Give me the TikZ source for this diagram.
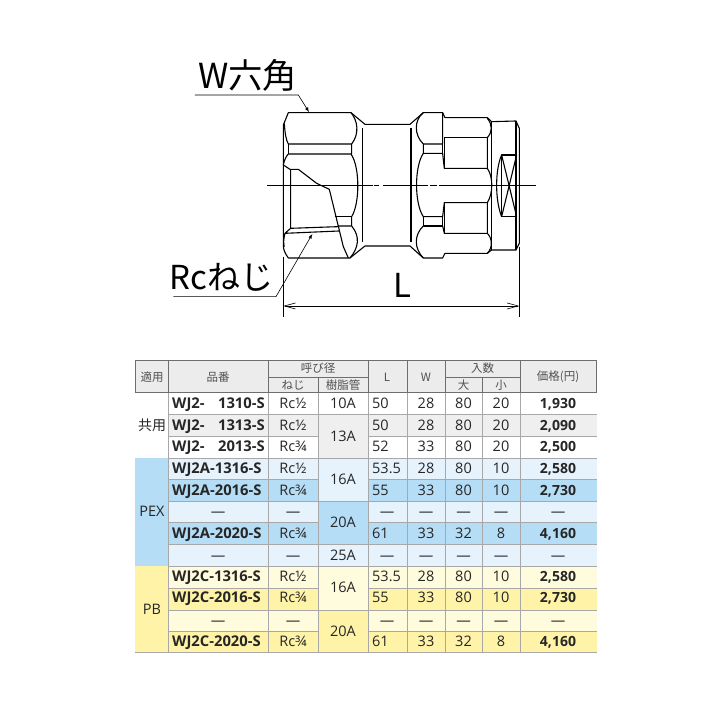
\documentclass[tikz,border=0pt]{standalone}
\usepackage{fontspec}
\setmainfont{Open Sans}
\newfontfamily\jp{Noto Sans CJK JP}
\usetikzlibrary{arrows,arrows.meta}
\definecolor{headbg}{HTML}{ECECEC}
\definecolor{headline}{HTML}{6E6E6E}
\definecolor{gridline}{HTML}{A8A8A8}
\definecolor{headtext}{HTML}{505050}
\definecolor{greyrow}{HTML}{EFEFEF}
\definecolor{bluerow}{HTML}{B5DDF6}
\definecolor{paleblue}{HTML}{E6F3FC}
\definecolor{yellowrow}{HTML}{FFF3A8}
\definecolor{paleyellow}{HTML}{FFFBDD}
\begin{document}
\begin{tikzpicture}[
x=1pt,y=-1pt,
outline/.style={line width=1.1pt,line join=round},
leader/.style={line width=.6pt},
biglabel/.style={font=\jp\fontsize{33}{33}\selectfont,inner sep=0pt},
head/.style={font=\jp\fontsize{11.5}{11.5}\selectfont,text=headtext,inner sep=0pt},
cell/.style={font=\fontsize{14.5}{14.5}\selectfont,text=black!85,inner sep=0pt,text height=10pt,text depth=0pt},
lcell/.style={cell,anchor=west},
code/.style={cell,anchor=west,font=\bfseries\fontsize{14.8}{14.8}\selectfont},
rcode/.style={cell,anchor=east,font=\bfseries\fontsize{14.8}{14.8}\selectfont},
price/.style={cell,font=\bfseries\fontsize{14}{14}\selectfont}
]
\useasboundingbox (0,0) rectangle (720,720);

% fitting
\begin{scope}[shift={(150,40)},x=.3333pt,y=-.3333pt]
\draw[outline] (400,255) -- (415,218) -- (603,218) -- (645,253) -- (780,253) -- (820,218) -- (878,218)
  -- (885,233) -- (1012,233) -- (1025,245) -- (1098,243) -- (1108,265) -- (1108,610) -- (1098,630)
  -- (1025,630) -- (1012,640) -- (885,640) -- (878,654) -- (820,654) -- (780,618) -- (645,618)
  -- (600,654) -- (415,654) .. controls (405,640) and (400,630) .. (400,615) -- cycle;
% left hexagon
\draw[outline] (400,375) .. controls (403,360) and (408,350) .. (415,342) -- (603,342);
\draw[outline] (403,250) .. controls (405,280) and (408,300) .. (415,312) -- (605,312);
\draw[outline] (415,312) -- (415,342);
\draw[outline] (603,218) .. controls (622,240) and (630,280) .. (605,312) -- (605,342);
\draw[outline] (603,342) .. controls (630,380) and (630,490) .. (605,530) -- (605,558);
\draw[outline] (555,530) -- (605,530);
\draw[outline] (563,558) -- (605,558) .. controls (632,590) and (625,625) .. (600,654);
\draw[outline] (400,375) -- (420,388) -- (445,388) -- (500,430) -- (538,448) -- (580,620) -- (595,654);
\draw[outline] (422,388) -- (422,565) -- (565,560);
\draw[outline] (422,565) -- (405,580) -- (568,573);
\draw[outline] (405,580) .. controls (400,600) and (400,610) .. (403,620);
\draw[outline] (638,265) -- (638,605);
% right hexagon
\draw[outline] (783,265) -- (783,605);
\draw[outline] (820,218) .. controls (792,240) and (792,285) .. (820,312) -- (878,312) -- (878,218);
\draw[outline] (820,312) -- (820,340) -- (878,340) -- (883,385) -- (1012,385);
\draw[outline] (820,340) .. controls (793,380) and (793,490) .. (820,530) -- (878,530) -- (883,488) -- (1012,488);
\draw[outline] (820,530) -- (820,558) -- (878,558) -- (878,530);
\draw[outline] (820,558) .. controls (792,585) and (792,625) .. (820,654);
\draw[outline] (878,558) -- (883,580) -- (1012,580);
\draw[outline] (878,312) -- (878,340);
\draw[outline] (883,293) -- (883,385);
\draw[outline] (883,293) -- (1012,293);
\draw[outline] (883,488) -- (883,580);
\draw[outline] (1012,235) .. controls (1028,255) and (1028,275) .. (1012,293) -- (1012,385)
  .. controls (1030,410) and (1030,460) .. (1012,488) -- (1012,580)
  .. controls (1028,595) and (1028,625) .. (1012,640);
\draw[outline] (1025,245) -- (1025,630);
\draw[outline] (1098,243) -- (1098,630);
% hex socket
\draw[outline] (1055,345) rectangle (1100,530);
\draw[outline] (1055,345) -- (1100,530);
\draw[outline] (1100,345) -- (1055,530);
\draw[outline] (1055,345) .. controls (1035,390) and (1035,480) .. (1055,530);
% centre line
\draw[leader] (352,436) -- (668,436);
\draw[leader] (672,436) -- (688,436);
\draw[leader] (698,436) -- (835,436);
\draw[leader] (840,436) -- (862,436);
\draw[leader] (867,436) -- (1158,436);

\node[biglabel,font=\jp\fontsize{34.5}{34.5}\selectfont] (wlabel) at (293,105) {W六角};
\coordinate (wfree) at (135,165);
\coordinate (wknee) at (445,165);
\coordinate (wtip) at (477,216);
\draw[leader,-latex] (wfree) -- (wknee) -- (wtip);

\node[biglabel] (rclabel) at (214,712) {Rcねじ};
\coordinate (rcfree) at (70,770);
\coordinate (rcknee) at (378,770);
\coordinate (rctip) at (487,582);
\draw[leader,-latex] (rcfree) -- (rcknee) -- (rctip);

\node[biglabel] (llabel) at (757,735) {L};
\coordinate (dimla) at (400,650);
\coordinate (dimlb) at (400,830);
\coordinate (dimra) at (1108,620);
\coordinate (dimrb) at (1108,830);
\coordinate (diml) at (400,798);
\coordinate (dimr) at (1108,798);
\draw[leader] (dimla) -- (dimlb);
\draw[leader] (dimra) -- (dimrb);
\draw[leader,{Straight Barb[length=11pt,width=6pt]}-{Straight Barb[length=11pt,width=6pt]}] (diml) -- (dimr);
\end{scope}

% table fills
\fill[headbg] (135,360) rectangle (596.5,392.5);
\fill[greyrow] (168.5,414.5) rectangle (318,436);
\fill[greyrow] (318,414.5) rectangle (368,457.7);
\fill[bluerow] (135,457.7) rectangle (168.5,565.7);
\fill[paleblue] (168.5,457.7) rectangle (596.5,479);
\fill[bluerow] (168.5,479) rectangle (596.5,500.7);
\fill[paleblue] (168.5,500.7) rectangle (596.5,522.3);
\fill[bluerow] (168.5,522.3) rectangle (596.5,544.3);
\fill[paleblue] (168.5,544.3) rectangle (596.5,565.7);
\fill[paleblue] (318,457.7) rectangle (368,500.7);
\fill[bluerow] (318,500.7) rectangle (368,544.3);
\fill[yellowrow] (135,565.7) rectangle (168.5,652.3);
\fill[paleyellow] (168.5,565.7) rectangle (596.5,587.7);
\fill[yellowrow] (168.5,587.7) rectangle (596.5,609.7);
\fill[paleyellow] (168.5,609.7) rectangle (596.5,631);
\fill[yellowrow] (168.5,631) rectangle (596.5,652.3);
\fill[paleyellow] (318,565.7) rectangle (368,609.7);
\fill[yellowrow] (318,609.7) rectangle (368,652.3);
\fill[greyrow] (368,414.5) rectangle (596.5,436);

% table lines
\draw[gridline] (168.5,414.5) -- (318,414.5) (368,414.5) -- (596.5,414.5);
\draw[gridline] (318,414.5) -- (368,414.5);
\draw[gridline] (168.5,436) -- (318,436) (368,436) -- (596.5,436);
\draw[gridline] (168.5,457.7) -- (596.5,457.7);
\draw[gridline] (168.5,479) -- (318,479) (368,479) -- (596.5,479);
\draw[gridline] (168.5,500.7) -- (596.5,500.7);
\draw[gridline] (168.5,522.3) -- (318,522.3) (368,522.3) -- (596.5,522.3);
\draw[gridline] (168.5,544.3) -- (596.5,544.3);
\draw[gridline] (168.5,565.7) -- (596.5,565.7);
\draw[gridline] (168.5,587.7) -- (318,587.7) (368,587.7) -- (596.5,587.7);
\draw[gridline] (168.5,609.7) -- (596.5,609.7);
\draw[gridline] (168.5,631) -- (318,631) (368,631) -- (596.5,631);
\draw[gridline] (135,652.3) -- (596.5,652.3);
\draw[gridline] (168.5,392.5) -- (168.5,652.3);
\draw[gridline] (268,392.5) -- (268,652.3);
\draw[gridline] (318,392.5) -- (318,652.3);
\draw[gridline] (368,392.5) -- (368,652.3);
\draw[gridline] (406.7,392.5) -- (406.7,652.3);
\draw[gridline] (445,392.5) -- (445,652.3);
\draw[gridline] (482,392.5) -- (482,652.3);
\draw[gridline] (520,392.5) -- (520,652.3);
\draw[headline] (135,360) rectangle (596.5,392.5);
\draw[headline] (168.5,360) -- (168.5,392.5);
\draw[headline] (268,360) -- (268,392.5);
\draw[headline] (368,360) -- (368,392.5);
\draw[headline] (406.7,360) -- (406.7,392.5);
\draw[headline] (445,360) -- (445,392.5);
\draw[headline] (520,360) -- (520,392.5);
\draw[headline] (268,376.7) -- (368,376.7);
\draw[headline] (445,376.7) -- (520,376.7);
\draw[headline] (318,376.7) -- (318,392.5);
\draw[headline] (482,376.7) -- (482,392.5);

% header
\node[head] (hyoto) at (152,377) {適用};
\node[head] (hhin) at (218,377) {品番};
\node[head] (hyobi) at (318,368.5) {呼び径};
\node[head] (hneji) at (293,385) {ねじ};
\node[head] (hjushi) at (343,385) {樹脂管};
\node[head] (hl) at (387,377) {L};
\node[head] (hw) at (426,377) {W};
\node[head] (hiri) at (482.5,368.5) {入数};
\node[head] (hdai) at (463.5,385) {大};
\node[head] (hsho) at (501,385) {小};
\node[head] (hprice) at (558,377) {価格(円)};

% usage and resin pipe columns
\node[cell,font=\jp\fontsize{14}{14}\selectfont] (ukyo) at (152,425) {共用};
\node[cell] (upex) at (152,511.7) {PEX};
\node[cell] (upb) at (152,609) {PB};
\node[cell] (j1) at (343,403.3) {10A};
\node[cell] (j2) at (343,436) {13A};
\node[cell] (j3) at (343,479) {16A};
\node[cell] (j4) at (343,522.5) {20A};
\node[cell] (j5) at (343,555) {25A};
\node[cell] (j6) at (343,587.7) {16A};
\node[cell] (j7) at (343,631) {20A};

% rows
\node[code] (c1) at (172,403.3) {WJ2-};
\node[rcode] (d1) at (265,403.3) {1310-S};
\node[cell] (r1) at (293,403.3) {Rc½};
\node[lcell] (l1) at (372,403.3) {50};
\node[cell] (w1) at (426,403.3) {28};
\node[cell] (a1) at (463.5,403.3) {80};
\node[cell] (b1) at (501,403.3) {20};
\node[price] (p1) at (558,403.3) {1,930};

\node[code] (c2) at (172,425) {WJ2-};
\node[rcode] (d2) at (265,425) {1313-S};
\node[cell] (r2) at (293,425) {Rc½};
\node[lcell] (l2) at (372,425) {50};
\node[cell] (w2) at (426,425) {28};
\node[cell] (a2) at (463.5,425) {80};
\node[cell] (b2) at (501,425) {20};
\node[price] (p2) at (558,425) {2,090};

\node[code] (c3) at (172,446.7) {WJ2-};
\node[rcode] (d3) at (265,446.7) {2013-S};
\node[cell] (r3) at (293,446.7) {Rc¾};
\node[lcell] (l3) at (372,446.7) {52};
\node[cell] (w3) at (426,446.7) {33};
\node[cell] (a3) at (463.5,446.7) {80};
\node[cell] (b3) at (501,446.7) {20};
\node[price] (p3) at (558,446.7) {2,500};

\node[code] (c4) at (172,468.3) {WJ2A-1316-S};
\node[cell] (r4) at (293,468.3) {Rc½};
\node[lcell] (l4) at (372,468.3) {53.5};
\node[cell] (w4) at (426,468.3) {28};
\node[cell] (a4) at (463.5,468.3) {80};
\node[cell] (b4) at (501,468.3) {10};
\node[price] (p4) at (558,468.3) {2,580};

\node[code] (c5) at (172,490) {WJ2A-2016-S};
\node[cell] (r5) at (293,490) {Rc¾};
\node[lcell] (l5) at (372,490) {55};
\node[cell] (w5) at (426,490) {33};
\node[cell] (a5) at (463.5,490) {80};
\node[cell] (b5) at (501,490) {10};
\node[price] (p5) at (558,490) {2,730};

\node[cell] (c6) at (218,511.7) {—};
\node[cell] (r6) at (293,511.7) {—};
\node[cell] (l6) at (387,511.7) {—};
\node[cell] (w6) at (426,511.7) {—};
\node[cell] (a6) at (463.5,511.7) {—};
\node[cell] (b6) at (501,511.7) {—};
\node[cell] (p6) at (558,511.7) {—};

\node[code] (c7) at (172,533.3) {WJ2A-2020-S};
\node[cell] (r7) at (293,533.3) {Rc¾};
\node[lcell] (l7) at (372,533.3) {61};
\node[cell] (w7) at (426,533.3) {33};
\node[cell] (a7) at (463.5,533.3) {32};
\node[cell] (b7) at (501,533.3) {8};
\node[price] (p7) at (558,533.3) {4,160};

\node[cell] (c8) at (218,555) {—};
\node[cell] (r8) at (293,555) {—};
\node[cell] (l8) at (387,555) {—};
\node[cell] (w8) at (426,555) {—};
\node[cell] (a8) at (463.5,555) {—};
\node[cell] (b8) at (501,555) {—};
\node[cell] (p8) at (558,555) {—};

\node[code] (c9) at (172,576.7) {WJ2C-1316-S};
\node[cell] (r9) at (293,576.7) {Rc½};
\node[lcell] (l9) at (372,576.7) {53.5};
\node[cell] (w9) at (426,576.7) {28};
\node[cell] (a9) at (463.5,576.7) {80};
\node[cell] (b9) at (501,576.7) {10};
\node[price] (p9) at (558,576.7) {2,580};

\node[code] (c10) at (172,597.5) {WJ2C-2016-S};
\node[cell] (r10) at (293,597.5) {Rc¾};
\node[lcell] (l10) at (372,597.5) {55};
\node[cell] (w10) at (426,597.5) {33};
\node[cell] (a10) at (463.5,597.5) {80};
\node[cell] (b10) at (501,597.5) {10};
\node[price] (p10) at (558,597.5) {2,730};

\node[cell] (c11) at (218,620) {—};
\node[cell] (r11) at (293,620) {—};
\node[cell] (l11) at (387,620) {—};
\node[cell] (w11) at (426,620) {—};
\node[cell] (a11) at (463.5,620) {—};
\node[cell] (b11) at (501,620) {—};
\node[cell] (p11) at (558,620) {—};

\node[code] (c12) at (172,641.7) {WJ2C-2020-S};
\node[cell] (r12) at (293,641.7) {Rc¾};
\node[lcell] (l12) at (372,641.7) {61};
\node[cell] (w12) at (426,641.7) {33};
\node[cell] (a12) at (463.5,641.7) {32};
\node[cell] (b12) at (501,641.7) {8};
\node[price] (p12) at (558,641.7) {4,160};
\end{tikzpicture}
\end{document}
